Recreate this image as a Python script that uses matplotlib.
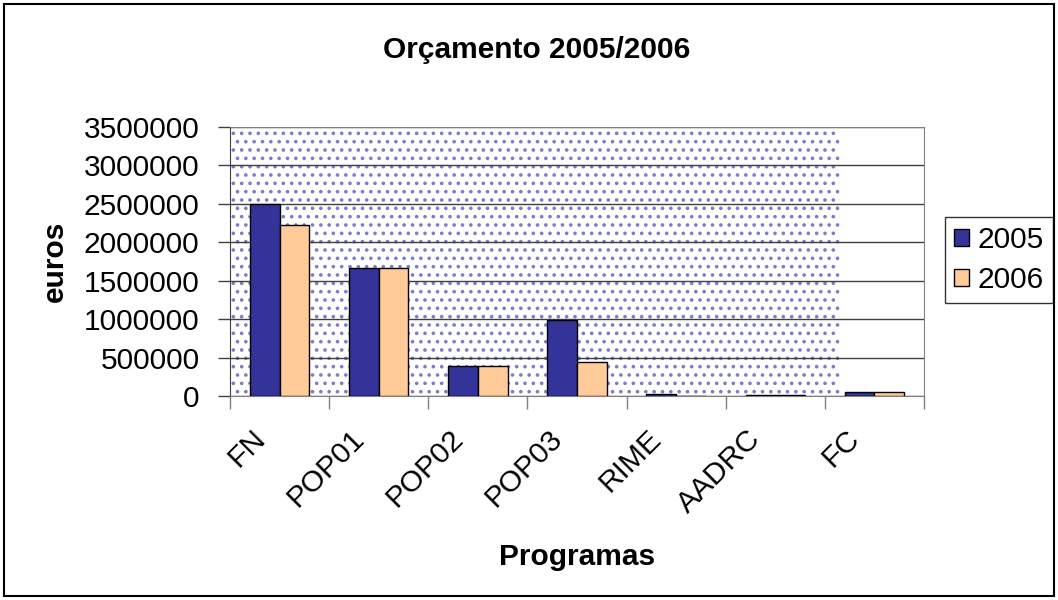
import matplotlib
matplotlib.use("Agg")
import numpy as np
import matplotlib.pyplot as plt
import matplotlib.transforms as mtransforms
from matplotlib.patches import Rectangle

plt.rcParams['font.family'] = ['Liberation Sans', 'DejaVu Sans']
plt.rcParams['hatch.color'] = '#7c7cc8'
plt.rcParams['hatch.linewidth'] = 1.4

# data
programas = ['FN', 'POP01', 'POP02', 'POP03', 'RIME', 'AADRC', 'FC']
v2005 = [2500000, 1665000, 390000, 985000, 20000, 10000, 50000]
v2006 = [2225000, 1665000, 390000, 445000, 0, 10000, 50000]
yticks = [0, 500000, 1000000, 1500000, 2000000, 2500000, 3000000, 3500000]

fs = 21.5
fig = plt.figure(figsize=(10.58, 6), dpi=100)
ax = fig.add_axes([230/1058, 1-396/600, 694/1058, 269/600])

# dotted background pattern (stops short of the right edge, as in the source)
bg = Rectangle((0, 0), 0.879, 1, transform=ax.transAxes, facecolor='white',
               edgecolor='#7c7cc8', hatch='..', linewidth=0, zorder=0)
ax.add_patch(bg)

x = np.arange(len(programas)) + 0.5
w = 0.3
ax.bar(x - w/2, v2005, w, color='#333399', edgecolor='black', linewidth=1,
       label='2005', zorder=3)
ax.bar(x + w/2, v2006, w, color='#FFCC99', edgecolor='black', linewidth=1,
       label='2006', zorder=3)

ax.set_xlim(0, len(programas))
ax.set_ylim(0, 3500000)
ax.set_yticks(yticks)
ax.set_yticklabels([str(v) for v in yticks], fontsize=fs)
ax.yaxis.grid(True, color='#404040', linewidth=1, zorder=1)
ax.set_axisbelow(True)

ax.set_xticks(np.arange(len(programas) + 1))
ax.set_xticklabels([])
ax.tick_params(axis='x', direction='out', length=9, color='#808080', width=1)
ax.tick_params(axis='y', direction='out', length=9, color='#404040', width=1, pad=13)

for side in ['top', 'right', 'bottom']:
    ax.spines[side].set_color('#808080')
ax.spines['left'].set_color('#404040')

off = mtransforms.ScaledTranslation(-0.19, -0.38, fig.dpi_scale_trans)
trans = mtransforms.blended_transform_factory(ax.transData, ax.transAxes) + off
for xi, name in zip(x, programas):
    ax.text(xi, 0, name, transform=trans, rotation=45, ha='right', va='center',
            rotation_mode='anchor', fontsize=fs)

fig.text(537/1058, 1-50/600, 'Orçamento 2005/2006', ha='center', va='center',
         fontsize=fs, fontweight='bold')
fig.text(577/1058, 1-557/600, 'Programas', ha='center', va='center',
         fontsize=fs, fontweight='bold')
fig.text(55/1058, 1-261/600, 'euros', ha='center', va='center', rotation=90,
         fontsize=fs, fontweight='bold')

leg = ax.legend(loc='center left', bbox_to_anchor=(945/1058, 1-260/600),
                bbox_transform=fig.transFigure, fontsize=fs, frameon=True,
                fancybox=False, edgecolor='black', handlelength=0.5,
                handleheight=0.5, handletextpad=0.3, borderpad=0.3,
                labelspacing=0.4, borderaxespad=0)
leg.get_frame().set_linewidth(1)

fig.patches.append(Rectangle((4/1058, 4/600), 1050/1058, 592/600,
                             transform=fig.transFigure, fill=False,
                             edgecolor='black', linewidth=1.5))

fig.savefig('out.png', dpi=100)
